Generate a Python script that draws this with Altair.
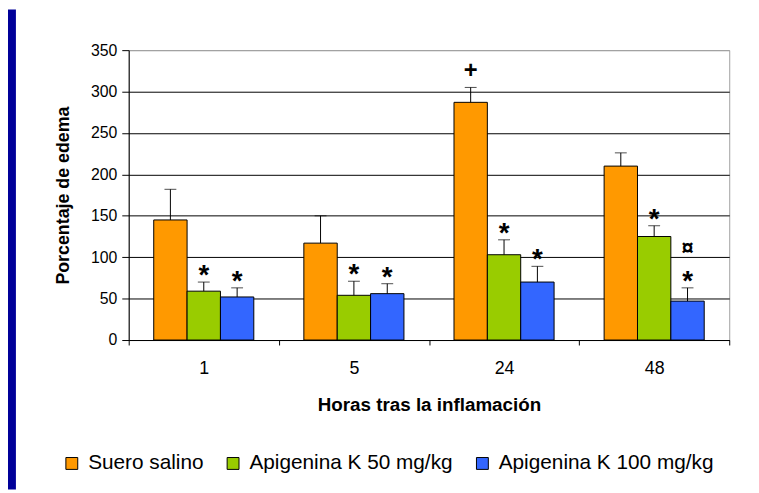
import altair as alt
import pandas as pd

# ---- data ----
hours = ["1", "5", "24", "48"]
series = ["Suero salino", "Apigenina K 50 mg/kg", "Apigenina K 100 mg/kg"]
colors = ["#FF9900", "#99CC00", "#3366FF"]

suero_mean = [145, 117, 287, 210]
suero_top = [182, 150, 305, 226]
api50_mean = [59, 54, 103, 125]
api50_top = [70, 71, 121, 138]
api100_mean = [52, 56, 70, 47]
api100_top = [63, 68, 89, 63]

y_ticks = [0, 50, 100, 150, 200, 250, 300, 350]

# significance marks: (hour, series, symbol)
sig_marks = [
    ("1", "Apigenina K 50 mg/kg", "*"),
    ("1", "Apigenina K 100 mg/kg", "*"),
    ("5", "Apigenina K 50 mg/kg", "*"),
    ("5", "Apigenina K 100 mg/kg", "*"),
    ("24", "Suero salino", "+"),
    ("24", "Apigenina K 50 mg/kg", "*"),
    ("24", "Apigenina K 100 mg/kg", "*"),
    ("48", "Apigenina K 50 mg/kg", "*"),
    ("48", "Apigenina K 100 mg/kg", "*"),
    ("48", "Apigenina K 100 mg/kg", "¤"),
]

means = {series[0]: suero_mean, series[1]: api50_mean, series[2]: api100_mean}
tops = {series[0]: suero_top, series[1]: api50_top, series[2]: api100_top}

rows = []
for s in series:
    for i, h in enumerate(hours):
        rows.append({"hour": h, "series": s, "mean": means[s][i], "top": tops[s][i]})
df = pd.DataFrame(rows)

ann = pd.DataFrame([
    {"hour": h, "series": s, "sym": sym, "top": tops[s][hours.index(h)]}
    for h, s, sym in sig_marks
])

W, H = 607, 293
FONT = "Liberation Sans"

x_enc = alt.X("hour:N", sort=hours,
              scale=alt.Scale(paddingInner=0, paddingOuter=0),
              axis=alt.Axis(title="Horas tras la inflamación", labelAngle=0,
                            tickBand="extent", tickSize=5, labelPadding=15,
                            labelFontSize=18, titleFontSize=19, titleFontWeight="bold",
                            titlePadding=18, domainColor="black", tickColor="black",
                            labelColor="black", titleColor="black", grid=False))
xo_enc = alt.XOffset("series:N", sort=series,
                     scale=alt.Scale(paddingInner=0, paddingOuter=0.75))
y_scale = alt.Scale(domain=[0, 350], nice=False)

bars = alt.Chart(df).mark_bar(stroke="black", strokeWidth=1).encode(
    x=x_enc,
    xOffset=xo_enc,
    y=alt.Y("mean:Q", scale=y_scale,
            axis=alt.Axis(title="Porcentaje de edema", values=y_ticks,
                          tickSize=7, labelPadding=5, labelFontSize=16,
                          titleFontSize=18, titleFontWeight="bold", titlePadding=18,
                          domainColor="black", tickColor="black", labelColor="black",
                          titleColor="black",
                          gridColor={"condition": {"test": "datum.value === 350", "value": "#a0a0a0"},
                                     "value": "#000000"},
                          gridWidth=1)),
    color=alt.Color("series:N", sort=series,
                    scale=alt.Scale(domain=series, range=colors),
                    legend=alt.Legend(title=None, orient="none", direction="horizontal",
                                      legendX=-68, legendY=407,
                                      symbolType="square", symbolSize=144,
                                      symbolStrokeColor="black", symbolStrokeWidth=1,
                                      labelFontSize=21, labelOffset=6, columnPadding=19,
                                      labelLimit=0, labelColor="black")),
)

stems = alt.Chart(df).mark_rule(color="black", strokeWidth=1).encode(
    x=alt.X("hour:N", sort=hours), xOffset=alt.XOffset("series:N", sort=series),
    y=alt.Y("mean:Q", scale=y_scale), y2="top:Q")

caps = alt.Chart(df).mark_tick(color="black", thickness=1, size=12).encode(
    x=alt.X("hour:N", sort=hours), xOffset=alt.XOffset("series:N", sort=series),
    y=alt.Y("top:Q", scale=y_scale))

def ann_layer(sym, size, dy):
    return alt.Chart(ann).transform_filter(alt.datum.sym == sym).mark_text(
        fontSize=size, fontWeight="bold", color="black", baseline="alphabetic", dy=dy
    ).encode(
        x=alt.X("hour:N", sort=hours), xOffset=alt.XOffset("series:N", sort=series),
        y=alt.Y("top:Q", scale=y_scale), text="sym:N")

stripe = alt.Chart(pd.DataFrame({"a": [0]})).mark_rect(color="#000099").encode(
    x=alt.value(-122), x2=alt.value(-114), y=alt.value(-41), y2=alt.value(444))

chart = alt.layer(
    stripe, bars, stems, caps,
    ann_layer("*", 28, 2), ann_layer("+", 24, -10), ann_layer("¤", 22, -33),
).properties(
    width=W, height=H, autosize="none",
    padding={"left": 122, "top": 40, "right": 22, "bottom": 152},
    background="white",
).configure(font=FONT).configure_view(stroke="#a0a0a0", strokeWidth=1)

chart.save("out.html", embed_options={"renderer": "svg", "actions": False})
